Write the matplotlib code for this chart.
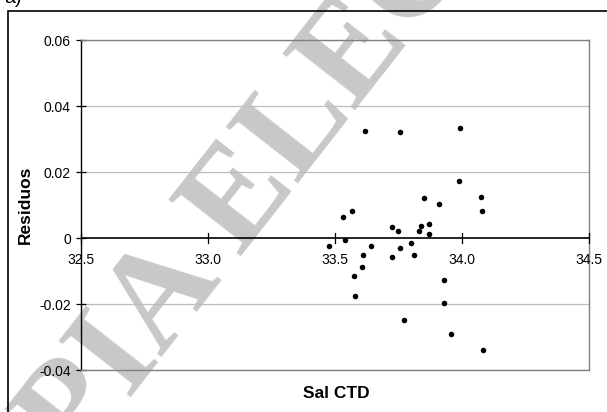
import matplotlib
matplotlib.use("Agg")
import matplotlib.pyplot as plt
from matplotlib.patches import Rectangle

# Salinity (CTD) vs. residuals
sal_ctd = [33.620, 33.754, 33.994, 33.990, 33.852, 33.908, 34.073, 34.077,
           33.533, 33.566, 33.724, 33.747, 33.837, 33.870, 33.829, 33.870,
           33.541, 33.476, 33.643, 33.754, 33.801, 33.609, 33.605, 33.576,
           33.580, 33.726, 33.812, 33.929, 33.929, 33.770, 33.958, 34.083]
residuos = [0.0325, 0.0320, 0.0333, 0.0174, 0.0122, 0.0103, 0.0125, 0.0081,
            0.0065, 0.0081, 0.0034, 0.0020, 0.0037, 0.0042, 0.0020, 0.0012,
            -0.0007, -0.0025, -0.0025, -0.0030, -0.0015, -0.0051, -0.0089, -0.0114,
            -0.0177, -0.0059, -0.0051, -0.0127, -0.0196, -0.0248, -0.0290, -0.0339]

x_ticks = [32.5, 33.0, 33.5, 34.0, 34.5]
x_tick_labels = ["32.5", "33.0", "33.5", "34.0", "34.5"]
y_ticks = [-0.04, -0.02, 0.0, 0.02, 0.04, 0.06]
y_tick_labels = ["-0.04", "-0.02", "0", "0.02", "0.04", "0.06"]

W, H = 607, 412
plt.rcParams['font.family'] = ['Liberation Sans', 'DejaVu Sans']

fig = plt.figure(figsize=(W / 100, H / 100), dpi=100)
fig.patch.set_facecolor('white')

def fx(px):
    return px / W

def fy(py):
    return 1 - py / H

# outer frame
fig.add_artist(Rectangle((fx(8), fy(430)), fx(640) - fx(8), fy(11) - fy(430),
                         transform=fig.transFigure, fill=False,
                         edgecolor='black', linewidth=1.2, zorder=5))
fig.text(fx(4), fy(3), "a)", fontsize=14, ha='left', va='baseline')

# watermark
fig.text(fx(412), fy(37), "COPIA ELECTRONICA", fontsize=100,
         family='Liberation Serif', fontweight='bold', color='#c8c8c8',
         rotation=52, ha='center', va='baseline', rotation_mode='anchor',
         zorder=-1)

ax = fig.add_axes([fx(81), fy(370), fx(589) - fx(81), fy(40) - fy(370)])
ax.set_facecolor('none')

ax.scatter(sal_ctd, residuos, s=16, color='black', zorder=4, linewidths=0)

ax.set_xlim(32.5, 34.5)
ax.set_ylim(-0.04, 0.06)

for yv in y_ticks:
    if yv != 0:
        ax.axhline(yv, color='#bdbdbd', linewidth=0.9, zorder=1)

for side in ['top', 'right', 'bottom']:
    ax.spines[side].set_color('#808080')
    ax.spines[side].set_linewidth(1.0)
ax.spines['left'].set_color('black')
ax.spines['left'].set_linewidth(1.0)

# x axis drawn through zero
ax.spines['bottom'].set_visible(False)
ax.axhline(0, color='black', linewidth=1.2, zorder=3)
ax.plot([32.5, 34.5], [-0.04, -0.04], color='#808080', linewidth=1.0,
        clip_on=False, zorder=3)

ax.set_yticks(y_ticks)
ax.set_yticklabels(y_tick_labels)
ax.tick_params(axis='y', direction='inout', length=6.5, width=0.9,
               labelsize=10, pad=4)

ax.set_xticks(x_ticks)
ax.set_xticklabels(x_tick_labels)
ax.tick_params(axis='x', bottom=False, labelbottom=False)
for xv, lab in zip(x_ticks, x_tick_labels):
    ax.plot([xv, xv], [-0.0015, 0.0015], color='black', linewidth=0.9,
            zorder=3, clip_on=False)
    ax.text(xv, -0.0066, lab, ha='center', va='center', fontsize=10)

fig.text(fx(336), fy(393), "Sal CTD", fontsize=12.5, fontweight='bold',
         ha='center', va='center')
fig.text(fx(25), fy(205), "Residuos", fontsize=12.5, fontweight='bold',
         ha='center', va='center', rotation=90)

fig.savefig("out.png", dpi=100)
